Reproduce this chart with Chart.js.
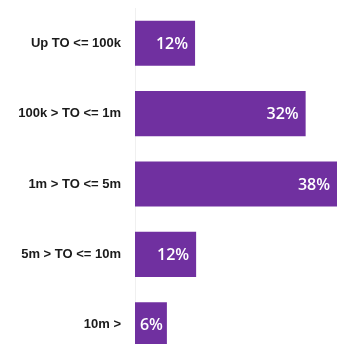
<!DOCTYPE html>
<html>
<head>
<meta charset="utf-8">
<script src="https://cdn.jsdelivr.net/npm/chart.js@4.4.0/dist/chart.umd.min.js"></script>
<style>
  html, body { margin: 0; padding: 0; background: #fff; overflow: hidden; }
</style>
</head>
<body>
<canvas id="turnoverChart" width="337" height="360"></canvas>
<script>
const categories = ['Up TO <= 100k', '100k > TO <= 1m', '1m > TO <= 5m', '5m > TO <= 10m', '10m >'];
// bar lengths (labels are rounded)
const shares = [11.3, 32.1, 38, 11.5, 6];
const shareLabels = ['12%', '32%', '38%', '12%', '6%'];

// white % label at the end of each bar
const barLabels = {
  id: 'barLabels',
  afterDatasetsDraw(chart) {
    const ctx = chart.ctx;
    const meta = chart.getDatasetMeta(0);
    ctx.save();
    ctx.fillStyle = '#ffffff';
    ctx.font = '600 16px "Open Sans", sans-serif';
    ctx.textAlign = 'right';
    ctx.textBaseline = 'middle';
    meta.data.forEach((bar, i) => {
      const pad = shares[i] < 10 ? 4 : 7;
      ctx.fillText(shareLabels[i], bar.x - pad, bar.y + 1);
    });
    ctx.restore();
  }
};

const ctx = document.getElementById('turnoverChart').getContext('2d');
new Chart(ctx, {
  type: 'bar',
  data: {
    labels: categories,
    datasets: [{
      data: shares,
      backgroundColor: '#7030A0',
      borderWidth: 0,
      barPercentage: 0.64,
      categoryPercentage: 1
    }]
  },
  options: {
    indexAxis: 'y',
    responsive: false,
    animation: false,
    layout: { padding: { top: 8, right: 0, bottom: 0, left: 0 } },
    plugins: {
      legend: { display: false },
      tooltip: { enabled: false }
    },
    scales: {
      x: {
        display: false,
        min: 0,
        max: 38
      },
      y: {
        afterFit(scale) {
          scale.width = 135;
          scale.paddingTop = 0;
          scale.paddingBottom = 0;
        },
        grid: { display: false, drawTicks: false },
        border: { display: true, color: '#f0f0f0', width: 1 },
        ticks: {
          padding: 14,
          color: '#1a1a1a',
          font: { family: 'Liberation Sans', size: 13, weight: 'bold' }
        }
      }
    }
  },
  plugins: [barLabels]
});
</script>
</body>
</html>
